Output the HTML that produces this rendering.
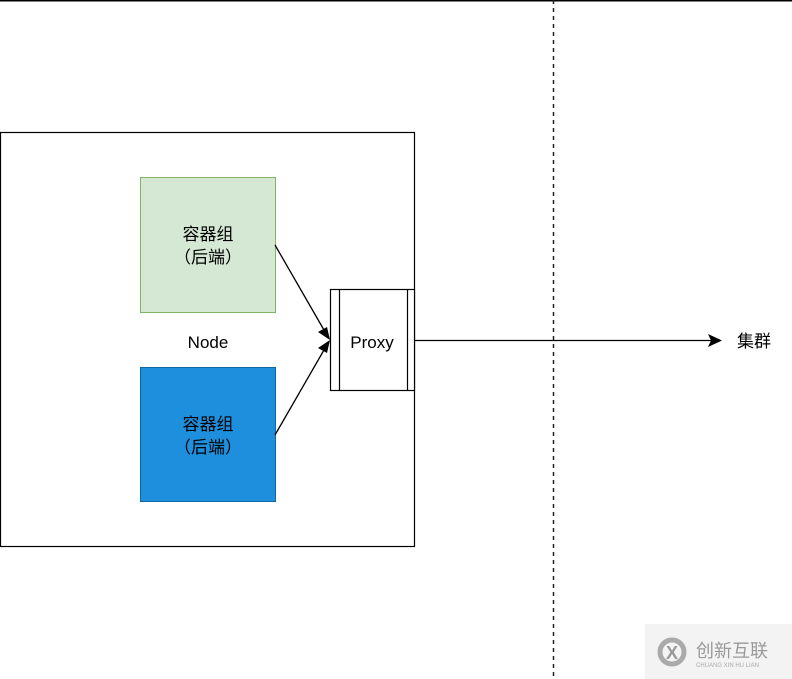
<!DOCTYPE html>
<html><head><meta charset="utf-8"><style>
html,body{margin:0;padding:0;background:#fff;}
svg{display:block;}
text{font-family:"Liberation Sans","Noto Sans CJK SC",sans-serif;}
</style></head><body>
<svg width="792" height="679" viewBox="0 0 792 679" xmlns="http://www.w3.org/2000/svg">
<rect x="0" y="0" width="792" height="679" fill="#fff"/>
<line x1="0" y1="0.5" x2="792" y2="0.5" stroke="#000" stroke-width="2"/>
<line x1="553.5" y1="0" x2="553.5" y2="679" stroke="#222" stroke-width="1.5" stroke-dasharray="4,4"/>
<rect x="0.5" y="132.5" width="414" height="414" fill="none" stroke="#000" stroke-width="1.2"/>
<rect x="140.5" y="177.5" width="135" height="135" fill="#d5e8d4" stroke="#82b366" stroke-width="1"/>
<text x="208" y="240" font-size="17" text-anchor="middle" fill="#000">容器组</text>
<text x="208" y="263" font-size="17" text-anchor="middle" fill="#000">（后端）</text>
<rect x="140.5" y="367.5" width="135" height="134" fill="#1d8fdc" stroke="#1466a0" stroke-width="1"/>
<text x="208" y="430" font-size="17" text-anchor="middle" fill="#000">容器组</text>
<text x="208" y="453" font-size="17" text-anchor="middle" fill="#000">（后端）</text>
<text x="208" y="348" font-size="17" text-anchor="middle" fill="#000">Node</text>
<rect x="330.5" y="289.5" width="84" height="101" fill="#fff" stroke="#000" stroke-width="1.2"/>
<line x1="339.5" y1="289.5" x2="339.5" y2="390.5" stroke="#000" stroke-width="1.2"/>
<line x1="407.5" y1="289.5" x2="407.5" y2="390.5" stroke="#000" stroke-width="1.2"/>
<text x="372" y="348" font-size="17" text-anchor="middle" fill="#000">Proxy</text>
<line x1="275" y1="245" x2="324" y2="330" stroke="#000" stroke-width="1.3"/>
<polygon points="330,340 318,332 327,327" fill="#000"/>
<line x1="275" y1="435" x2="324" y2="350" stroke="#000" stroke-width="1.3"/>
<polygon points="330,340 318,348 327,353" fill="#000"/>
<line x1="415" y1="340.5" x2="712" y2="340.5" stroke="#000" stroke-width="1.3"/>
<polygon points="722,340.5 708,334 711,340.5 708,347" fill="#000"/>
<text x="737" y="347" font-size="17" fill="#000">集群</text>
<rect x="645" y="624" width="147" height="55" fill="#f3f3f3"/>
<circle cx="672" cy="652" r="12" fill="none" stroke="#aaa" stroke-width="5"/>
<text x="672" y="659" font-size="18" font-weight="bold" text-anchor="middle" fill="#999">X</text>
<text x="696" y="657" font-size="18" fill="#999">创新互联</text>
<text x="696" y="667" font-size="6" fill="#aaa">CHUANG XIN HU LIAN</text>
</svg>
</body></html>
